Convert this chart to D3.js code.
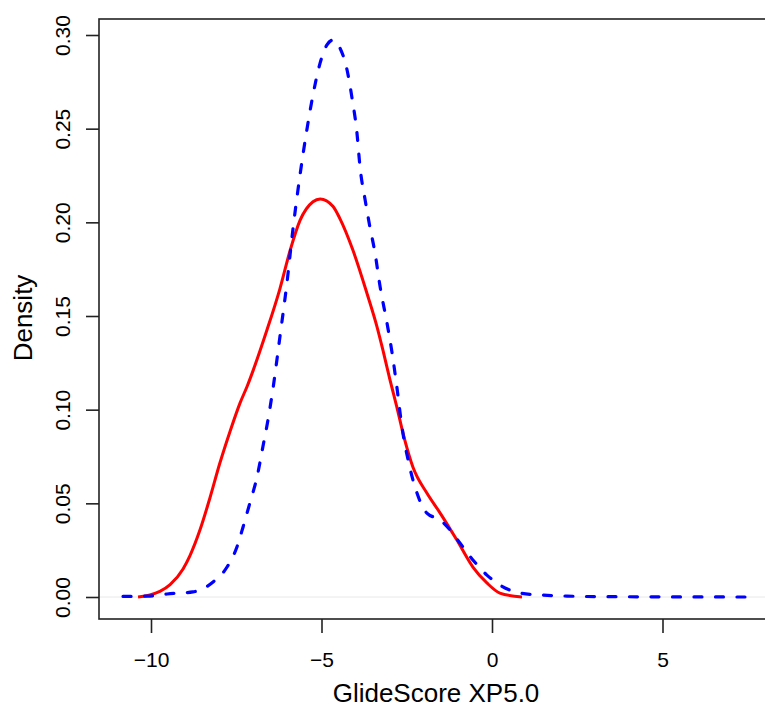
<!DOCTYPE html>
<html>
<head>
<meta charset="utf-8">
<script src="https://cdn.jsdelivr.net/npm/d3@7"></script>
<style>
  body { margin: 0; background: #fff; }
  svg { display: block; font-family: "Liberation Sans", Arial, sans-serif; }
</style>
</head>
<body>
<div id="chart"></div>
<script>
// density curves (x = GlideScore, y = density)
const redX = [-10.38, -10.03, -9.74, -9.44, -9.06, -8.86, -8.56, -8.27, -7.98, -7.68, -7.39, -7.18,
  -6.60, -6.22, -5.92, -5.63, -5.25, -5.04, -4.66, -4.46, -4.08, -3.67, -3.37, -3.20, -2.99,
  -2.79, -2.61, -2.32, -1.91, -1.52, -1.03, -0.56, -0.15, 0.23, 0.88];
const redY = [0, 0.0011, 0.0030, 0.0066, 0.0150, 0.0220, 0.0360, 0.0530, 0.0715, 0.0885, 0.1035, 0.1125,
  0.1425, 0.1645, 0.1850, 0.2010, 0.2110, 0.2125, 0.2085, 0.2020, 0.1852, 0.1623, 0.1441, 0.1319, 0.1158,
  0.1014, 0.0875, 0.0694, 0.0555, 0.0448, 0.0304, 0.0160, 0.0075, 0.0021, 0];

const blueX = [-10.82, -10.03, -9.53, -8.77, -8.18, -7.77, -7.48, -7.30, -7.10, -6.89, -6.72, -6.57,
  -6.42, -6.22, -6.01, -5.84, -5.63, -5.43, -5.25, -5.04, -4.84, -4.66, -4.46, -4.25, -4.11, -3.96,
  -3.87, -3.72, -3.58, -3.43, -3.28, -3.08, -2.93, -2.79, -2.64, -2.46, -2.20, -1.91, -1.52, -1.23,
  -0.94, -0.56, -0.15, 0.23, 0.82, 1.41, 2.20, 3.17, 7.42];
const blueY = [0.0003, 0.0005, 0.0016, 0.0027, 0.0080, 0.0160, 0.0267, 0.0374, 0.0502, 0.0641, 0.0801, 0.0945,
  0.1116, 0.1388, 0.1682, 0.1959, 0.2253, 0.2493, 0.2680, 0.2851, 0.2947, 0.2973, 0.2931, 0.2813, 0.2669, 0.2477,
  0.2295, 0.2119, 0.1975, 0.1836, 0.1655, 0.1463, 0.1303, 0.1121, 0.0907, 0.0731, 0.0555, 0.0448, 0.0411, 0.0358,
  0.0288, 0.0198, 0.0117, 0.0064, 0.0021, 0.0011, 0.0005, 0.0002, 0];

const xTicks = [-10, -5, 0, 5];
const yTicks = [0, 0.05, 0.10, 0.15, 0.20, 0.25, 0.30];

// dim
const W = 765, H = 708;
const box = {left: 99, top: 19, right: 770, bottom: 619};

const svg = d3.select("#chart")
  .append("svg")
    .attr("width", W)
    .attr("height", H);

const x = d3.scaleLinear().domain([-10, 5]).range([151, 662.5]);
const y = d3.scaleLinear().domain([0, 0.3]).range([597, 35]);

// zero line (very faint, like R's plot.density)
svg.append("line")
  .attr("x1", box.left).attr("x2", box.right)
  .attr("y1", y(0)).attr("y2", y(0))
  .attr("stroke", "#e8e8e8")
  .attr("stroke-width", 1);

// curves
const line = d3.line()
  .x(d => x(d[0]))
  .y(d => y(d[1]))
  .curve(d3.curveMonotoneX);

svg.append("path")
  .datum(redX.map((v, i) => [v, redY[i]]))
  .attr("d", line)
  .attr("fill", "none")
  .attr("stroke", "#ff0000")
  .attr("stroke-width", 3);

svg.append("path")
  .datum(blueX.map((v, i) => [v, blueY[i]]))
  .attr("d", line)
  .attr("fill", "none")
  .attr("stroke", "#0000ff")
  .attr("stroke-width", 3.2)
  .attr("stroke-linecap", "round")
  .attr("stroke-dasharray", "8,13.5");

// frame
svg.append("rect")
  .attr("x", box.left).attr("y", box.top)
  .attr("width", box.right - box.left)
  .attr("height", box.bottom - box.top)
  .attr("fill", "none")
  .attr("stroke", "#222")
  .attr("stroke-width", 1.6);

// x axis
const gx = svg.append("g")
  .attr("transform", `translate(0,${box.bottom})`)
  .call(d3.axisBottom(x).tickValues(xTicks).tickSize(14).tickPadding(19).tickFormat(d3.format("d")));
gx.select(".domain").remove();
gx.selectAll("line").attr("stroke", "#222").attr("stroke-width", 1.6);
gx.selectAll("text")
  .attr("fill", "#000")
  .style("font-size", "21px")
  .style("font-family", "Liberation Sans, Arial, sans-serif");

// y axis
const gy = svg.append("g")
  .attr("transform", `translate(${box.left},0)`)
  .call(d3.axisLeft(y).tickValues(yTicks).tickSize(13).tickFormat(d3.format(".2f")));
gy.select(".domain").remove();
gy.selectAll("line").attr("stroke", "#222").attr("stroke-width", 1.6);
gy.selectAll("text")
  .attr("transform", "rotate(-90)")
  .attr("x", 0)
  .attr("y", -29)
  .attr("dy", null)
  .attr("text-anchor", "middle")
  .attr("fill", "#000")
  .style("font-size", "21px")
  .style("font-family", "Liberation Sans, Arial, sans-serif");

// axis titles
svg.append("text")
  .attr("x", 436)
  .attr("y", 702)
  .attr("text-anchor", "middle")
  .style("font-size", "26px")
  .text("GlideScore XP5.0");

svg.append("text")
  .attr("transform", "translate(32,318) rotate(-90)")
  .attr("text-anchor", "middle")
  .style("font-size", "26px")
  .text("Density");
</script>
</body>
</html>
